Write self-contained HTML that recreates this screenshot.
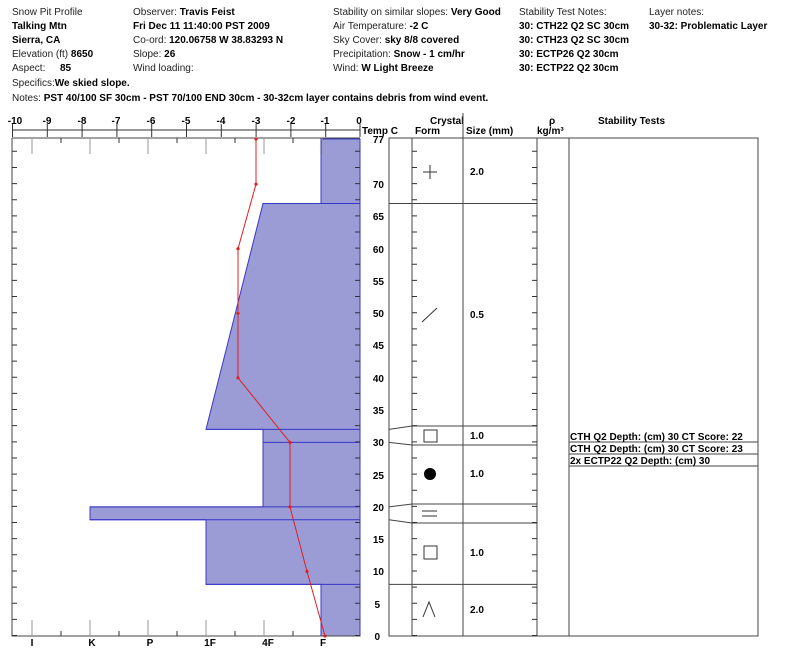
<!DOCTYPE html>
<html><head><meta charset="utf-8"><style>
body{margin:0;background:#fff;}
svg{display:block;font-family:"Liberation Sans",sans-serif;}
.h{font-size:10px;fill:#222;}
.b{font-weight:bold;fill:#000;}
.t{font-size:10px;font-weight:bold;fill:#000;}
</style></head><body>
<svg width="800" height="665" viewBox="0 0 800 665" xmlns="http://www.w3.org/2000/svg">
<g class="h">
<text x="12" y="15">Snow Pit Profile</text>
<text x="12" y="29" class="b">Talking Mtn</text>
<text x="12" y="43" class="b">Sierra, CA</text>
<text x="12" y="57">Elevation (ft)  <tspan class="b">  8650</tspan></text>
<text x="12" y="71">Aspect:</text><text x="60" y="71" class="b">85</text>
<text x="12" y="86">Specifics:<tspan class="b">We skied slope.</tspan></text>
<text x="12" y="101">Notes:  <tspan class="b">PST 40/100 SF 30cm  -  PST 70/100 END 30cm  -  30-32cm layer contains debris from wind event.</tspan></text>
<text x="133" y="15">Observer:  <tspan class="b">Travis Feist</tspan></text>
<text x="133" y="29" class="b">Fri Dec 11 11:40:00 PST 2009</text>
<text x="133" y="43">Co-ord:  <tspan class="b">120.06758 W 38.83293 N</tspan></text>
<text x="133" y="57">Slope:  <tspan class="b">26</tspan></text>
<text x="133" y="71">Wind loading:</text>
<text x="333" y="15">Stability on similar slopes:  <tspan class="b">Very Good</tspan></text>
<text x="333" y="29">Air Temperature:  <tspan class="b">-2 C</tspan></text>
<text x="333" y="43">Sky Cover:  <tspan class="b">sky 8/8 covered</tspan></text>
<text x="333" y="57">Precipitation:  <tspan class="b">Snow - 1 cm/hr</tspan></text>
<text x="333" y="71">Wind:  <tspan class="b">W Light Breeze</tspan></text>
<text x="519" y="15">Stability Test Notes:</text>
<text x="519" y="29" class="b">30: CTH22 Q2 SC 30cm</text>
<text x="519" y="43" class="b">30: CTH23 Q2 SC 30cm</text>
<text x="519" y="57" class="b">30: ECTP26 Q2 30cm</text>
<text x="519" y="71" class="b">30: ECTP22 Q2 30cm</text>
<text x="649" y="15">Layer notes:</text>
<text x="649" y="29" class="b">30-32: Problematic Layer</text>
</g>
<!-- temp axis -->
<g class="t" text-anchor="middle">
<text x="15" y="124">-10</text><text x="47" y="124">-9</text><text x="82" y="124">-8</text><text x="116" y="124">-7</text><text x="151" y="124">-6</text><text x="186" y="124">-5</text><text x="221" y="124">-4</text><text x="256" y="124">-3</text><text x="291" y="124">-2</text><text x="325" y="124">-1</text><text x="359" y="124">0</text>
</g>
<line x1="12" y1="130" x2="360" y2="130" stroke="#777" stroke-width="1.5"/>
<g stroke="#333">
<path d="M12.5 124V137M47.3 124V137M82.1 124V137M116.9 124V137M151.7 124V137M186.5 124V137M221.3 124V137M256.1 124V137M290.9 124V137M325.7 124V137M360 124V137"/>
</g>
<text x="362" y="134" class="t">Temp C</text>
<!-- hardness fill -->
<polygon points="360,139 321,139 321,203.5 263,203.5 206,429.4 263,429.4 263,506.9 90,506.9 90,519.8 206,519.8 206,584.4 321,584.4 321,636 360,636" fill="#9b9bd6" stroke="#3838c8" stroke-width="1"/>
<g stroke="#3838c8"><path d="M263 442.4H360M206 429.4H360M90 506.9H360M90 519.8H360M206 584.4H360M263 203.5H360"/></g>
<!-- left frame -->
<g stroke="#444" fill="none">
<path d="M12 138H360M12 138V636H360"/>
</g>
<g stroke="#999"><path d="M32 138V154M90 138V154M148 138V154M206 138V154M264 138V154M322 138V154M32 636V620M90 636V620M148 636V620M206 636V620M264 636V620"/></g>
<g stroke="#333"><path d="M61 138V143M119 138V143M177 138V143M235 138V143M293 138V143M61 636V631M119 636V631M177 636V631M235 636V631M293 636V631"/></g>
<line x1="14.5" y1="636" x2="14.5" y2="139" stroke="#333" stroke-width="5" stroke-dasharray="1 15.14"/>
<line x1="357.5" y1="636" x2="357.5" y2="139" stroke="#333" stroke-width="5" stroke-dasharray="1 15.14"/>
<g class="t" text-anchor="middle">
<text x="32" y="646">I</text><text x="92" y="646">K</text><text x="150" y="646">P</text><text x="210" y="646">1F</text><text x="268" y="646">4F</text><text x="323" y="646">F</text>
</g>
<!-- temp profile -->
<polyline points="256,139 256,184.2 238,248.7 238,313.3 238,377.8 290,442.4 290,506.9 307,571.5 325,636" fill="none" stroke="#e02020" stroke-width="1"/>
<g fill="#e02020"><circle cx="256" cy="139" r="1.6"/><circle cx="256" cy="184.2" r="1.6"/><circle cx="238" cy="248.7" r="1.6"/><circle cx="238" cy="313.3" r="1.6"/><circle cx="238" cy="377.8" r="1.6"/><circle cx="290" cy="442.4" r="1.6"/><circle cx="290" cy="506.9" r="1.6"/><circle cx="307" cy="571.5" r="1.6"/><circle cx="325" cy="636" r="1.6"/></g>
<!-- depth labels -->
<g class="t" text-anchor="end">
<text x="384" y="143">77</text><text x="384" y="188">70</text><text x="384" y="220">65</text><text x="384" y="253">60</text><text x="384" y="285">55</text><text x="384" y="317">50</text><text x="384" y="349">45</text><text x="384" y="382">40</text><text x="384" y="414">35</text><text x="384" y="446">30</text><text x="384" y="479">25</text><text x="384" y="511">20</text><text x="384" y="543">15</text><text x="384" y="575">10</text><text x="380" y="608">5</text><text x="380" y="640">0</text>
</g>
<!-- right table -->
<g class="t">
<text x="430" y="124">Crystal</text>
<text x="415" y="134">Form</text>
<text x="466" y="134">Size (mm)</text>
<text x="549" y="124">ρ</text>
<text x="537" y="134">kg/m³</text>
<text x="598" y="124">Stability Tests</text>
</g>
<g stroke="#444" fill="none">
<path d="M463 113V138"/>
<path d="M389 138H758V636H389ZM412 138V636M463 138V636M537 138V636M569 138V636"/>
<path d="M389 203.5H537M389 584.4H537"/>
<path d="M389 429.4L412 426H537M389 442.4L412 445H537M389 506.9L412 504H537M389 519.8L412 523H537"/>
<path d="M569 442H758M569 454H758M569 466H758"/>
</g>
<line x1="414.5" y1="636" x2="414.5" y2="139" stroke="#333" stroke-width="5" stroke-dasharray="1 15.14"/>
<line x1="534.5" y1="636" x2="534.5" y2="139" stroke="#333" stroke-width="5" stroke-dasharray="1 15.14"/>
<!-- symbols -->
<g stroke="#333" fill="none" stroke-width="1">
<path d="M423 172H437M430 165V179"/>
<path d="M422 322L437 308"/>
<rect x="424" y="430" width="13" height="12"/>
<path d="M422 511H437M422 516H437"/>
<rect x="424" y="546" width="13" height="13"/>
<path d="M423 617L429 602L435 617"/>
</g>
<circle cx="430" cy="474" r="6" fill="#000"/>
<g class="t">
<text x="470" y="175">2.0</text><text x="470" y="318">0.5</text><text x="470" y="439">1.0</text><text x="470" y="477">1.0</text><text x="470" y="556">1.0</text><text x="470" y="613">2.0</text>
<text x="570" y="440">CTH Q2 Depth: (cm) 30 CT Score: 22</text>
<text x="570" y="452">CTH Q2 Depth: (cm) 30 CT Score: 23</text>
<text x="570" y="464">2x ECTP22 Q2 Depth: (cm) 30</text>
</g>
</svg>
</body></html>
